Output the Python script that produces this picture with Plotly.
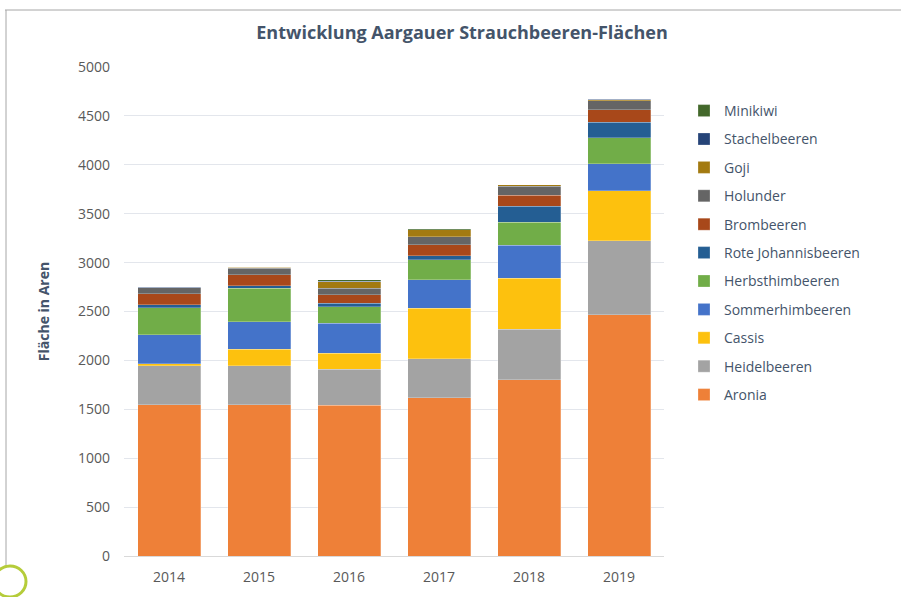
import plotly.graph_objects as go

years = ["2014", "2015", "2016", "2017", "2018", "2019"]
aronia = [1545, 1545, 1540, 1620, 1800, 2465]
heidelbeeren = [400, 400, 370, 395, 520, 760]
cassis = [20, 170, 165, 520, 520, 510]
sommerhimbeeren = [295, 280, 305, 290, 335, 275]
herbsthimbeeren = [280, 345, 170, 205, 240, 265]
rote_johannisbeeren = [28, 25, 35, 42, 160, 160]
brombeeren = [112, 112, 85, 110, 112, 130]
holunder = [65, 65, 68, 80, 92, 92]
goji = [0, 10, 68, 75, 15, 10]
stachelbeeren = [5, 0, 5, 0, 0, 3]
minikiwi = [5, 5, 12, 10, 3, 5]

series = [
    ("Aronia", aronia, "#EE8038"),
    ("Heidelbeeren", heidelbeeren, "#A3A3A3"),
    ("Cassis", cassis, "#FDC10E"),
    ("Sommerhimbeeren", sommerhimbeeren, "#4473C9"),
    ("Herbsthimbeeren", herbsthimbeeren, "#71AD48"),
    ("Rote Johannisbeeren", rote_johannisbeeren, "#245E93"),
    ("Brombeeren", brombeeren, "#A8481A"),
    ("Holunder", holunder, "#656565"),
    ("Goji", goji, "#A37A10"),
    ("Stachelbeeren", stachelbeeren, "#264478"),
    ("Minikiwi", minikiwi, "#43682B"),
]

fig = go.Figure()
for i, (name, vals, col) in enumerate(series):
    fig.add_trace(go.Bar(
        x=years, y=vals, name=name, legendgroup=name, legendrank=1000 - i,
        marker=dict(color=col, line=dict(color="rgba(255,255,255,0.5)", width=0.5)),
    ))

L, R, T, B = 124, 237, 67, 41
W, H = 901, 597
pw = W - L - R
ph = H - T - B

def px_x(p):
    return (p - L) / pw

def px_y(p):
    return (H - B - p) / ph

fig.update_layout(
    width=W, height=H,
    margin=dict(l=L, r=R, t=T, b=B, pad=0),
    barmode="stack", bargap=0.3,
    paper_bgcolor="white", plot_bgcolor="white",
    font=dict(family="Open Sans", size=14, color="#595959"),
    title=dict(text="<b>Entwicklung Aargauer Strauchbeeren-Flächen</b>",
               xref="container", x=462 / W, xanchor="center",
               yref="container", y=1 - 33 / H, yanchor="middle",
               font=dict(family="Open Sans", size=18, color="#44546A")),
    xaxis=dict(showgrid=False, showline=True, linecolor="#D9D9D9", linewidth=1,
               ticks="", ticklabelstandoff=8,
               tickfont=dict(size=14, color="#595959")),
    yaxis=dict(range=[0, 5000], dtick=500, showgrid=True, gridcolor="#E3E6EC",
               gridwidth=1, zeroline=False, showline=False, ticks="",
               ticklabelstandoff=13,
               tickfont=dict(size=14, color="#595959"),
               title=dict(text="<b>Fläche in Aren</b>", standoff=25,
                          font=dict(size=14, color="#44546A"))),
    legend=dict(x=px_x(684), xanchor="left", y=px_y(95), yanchor="top",
                traceorder="grouped", tracegroupgap=7.2,
                font=dict(size=14, color="#44546A"), itemwidth=30,
                bgcolor="rgba(0,0,0,0)"),
    showlegend=True,
)

fig.add_shape(type="line", xref="paper", yref="paper",
              x0=px_x(5), x1=px_x(901), y0=px_y(10), y1=px_y(10),
              line=dict(color="#A6A6A6", width=1))
fig.add_shape(type="line", xref="paper", yref="paper",
              x0=px_x(6), x1=px_x(6), y0=px_y(10), y1=px_y(566),
              line=dict(color="#A6A6A6", width=1))
fig.add_shape(type="circle", xref="paper", yref="paper",
              x0=px_x(-6), x1=px_x(26), y0=px_y(597), y1=px_y(566),
              line=dict(color="#B5CC3A", width=3))

fig.write_html("out.html", config={"displayModeBar": False},
               post_script="document.body.style.margin='0';document.body.style.overflow='hidden';")
